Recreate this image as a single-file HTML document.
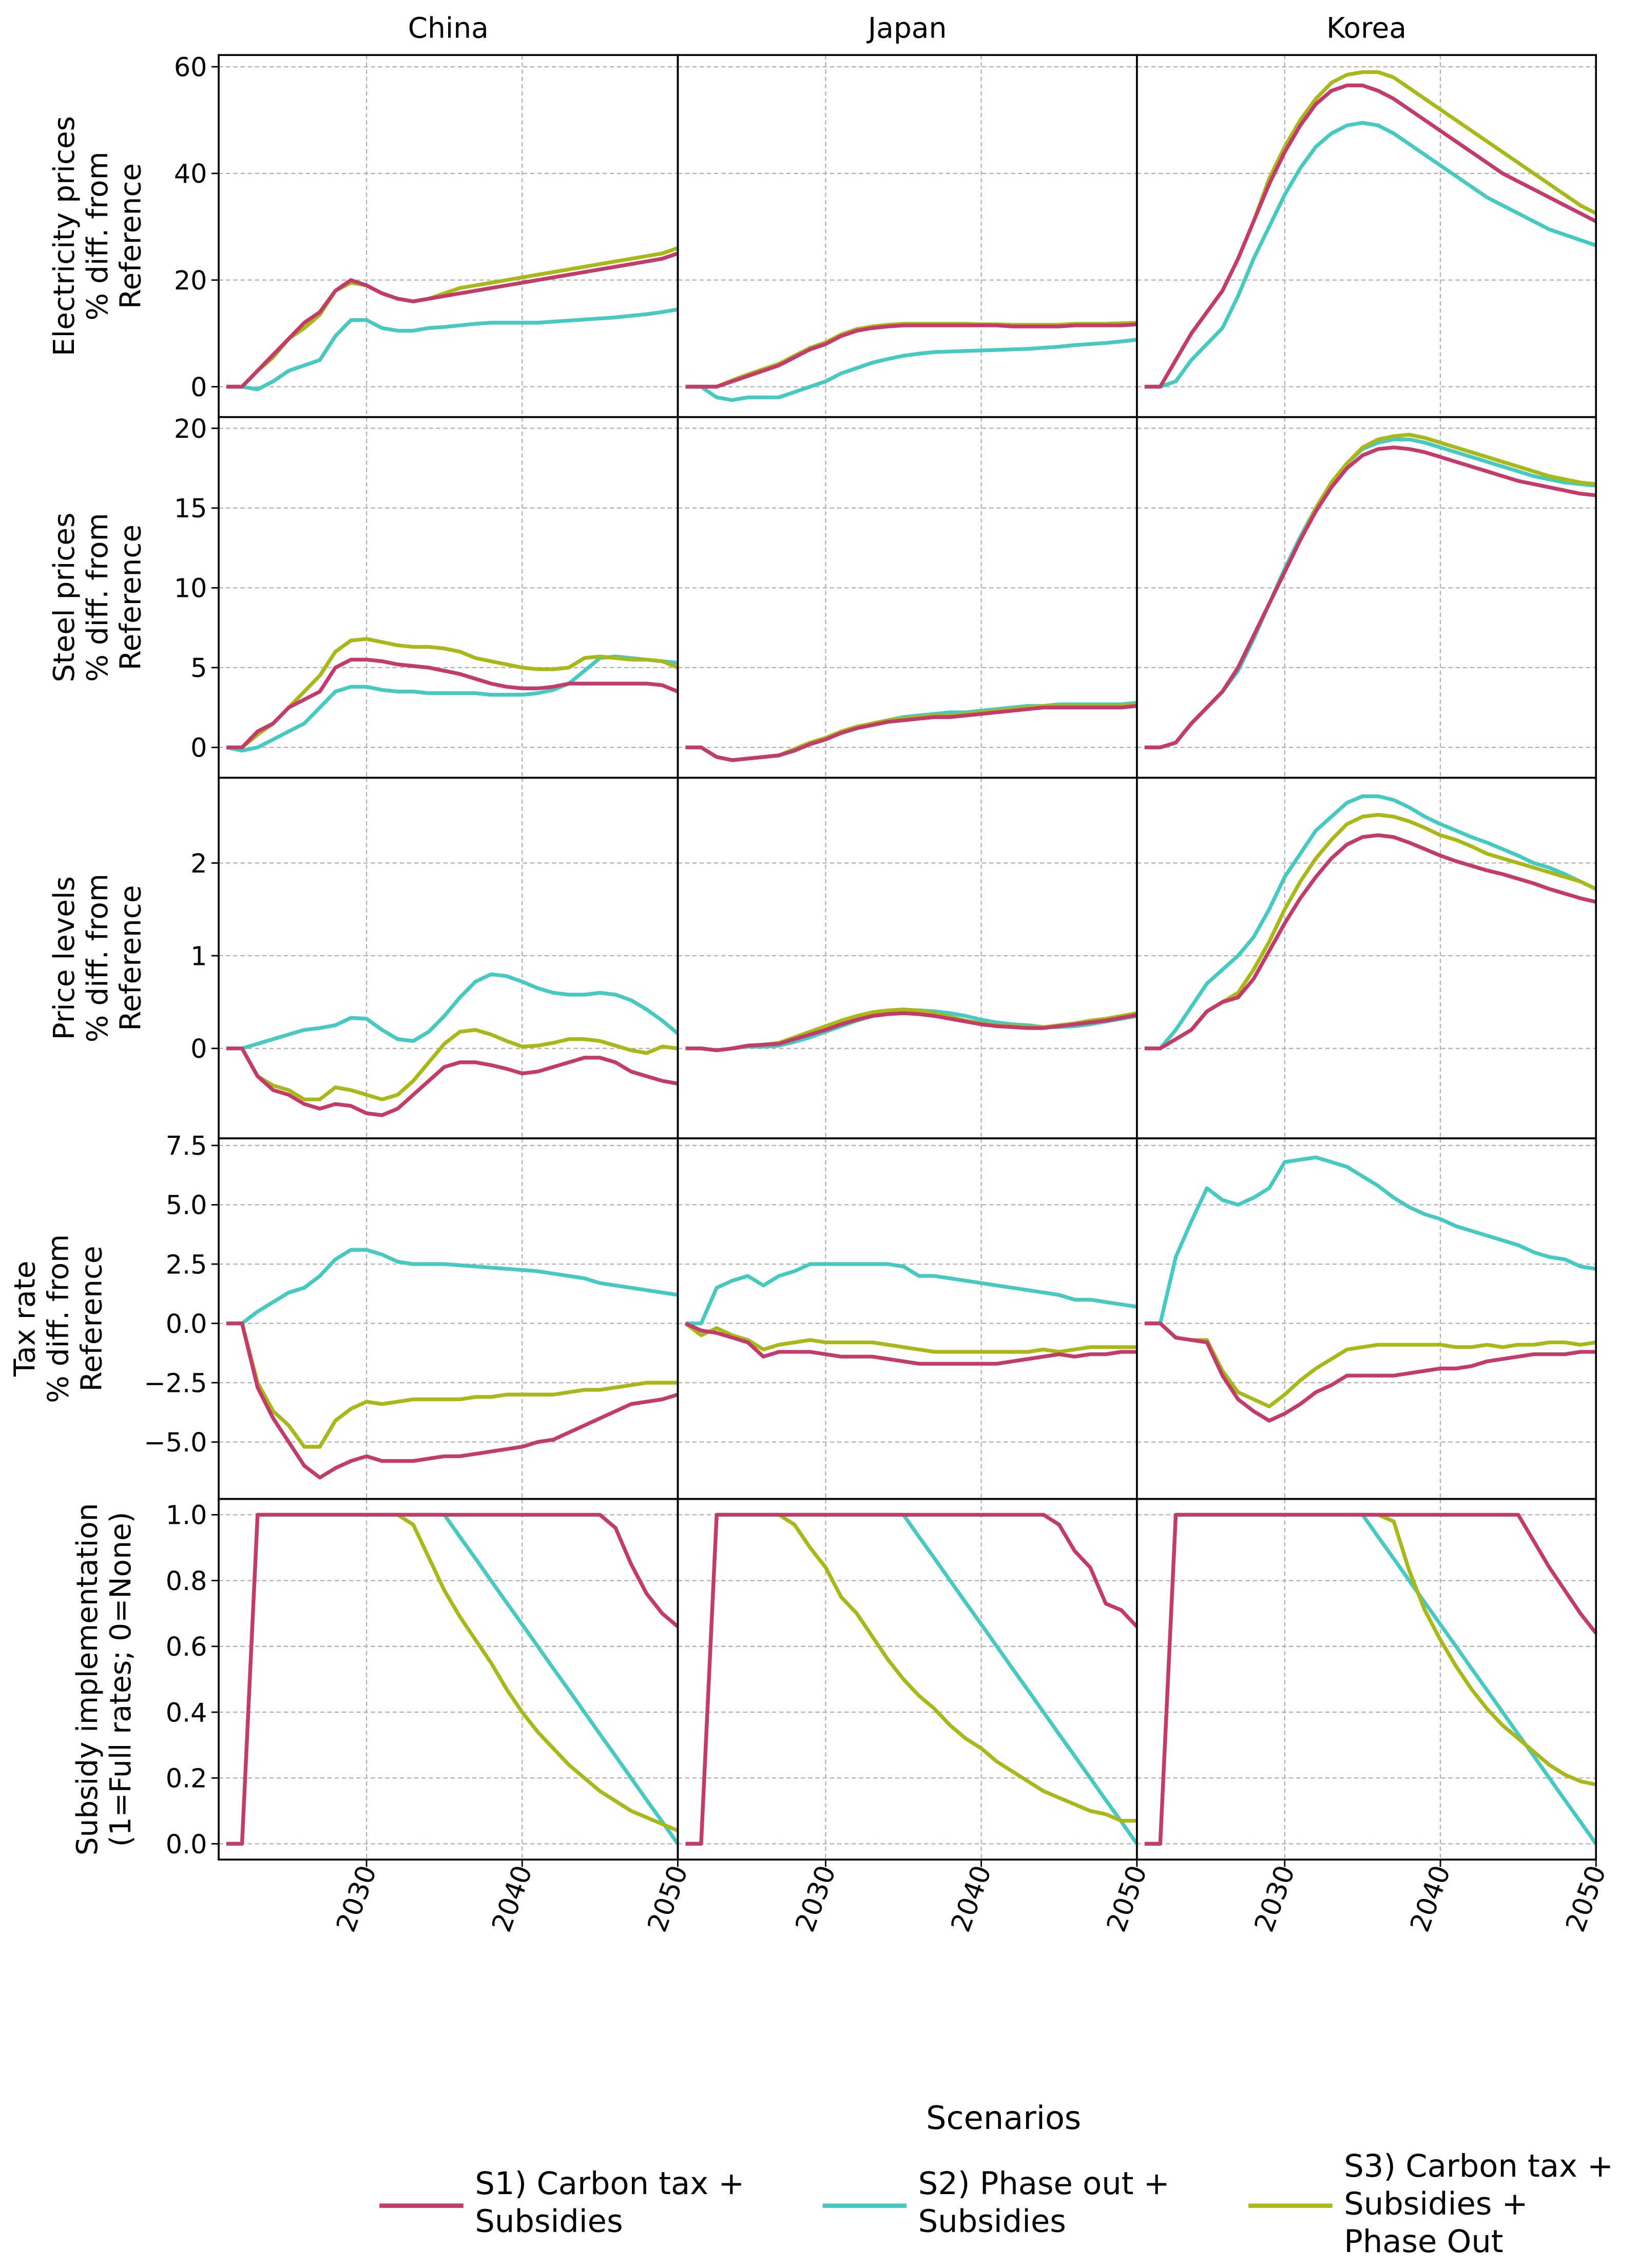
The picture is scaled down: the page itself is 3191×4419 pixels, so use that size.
<!DOCTYPE html>
<html><head><meta charset="utf-8"><style>
html,body{margin:0;padding:0;background:#fff;}
svg{display:block;font-family:"DejaVu Sans","Liberation Sans",sans-serif;}
</style></head><body>
<svg id="chart" width="3191" height="4419" viewBox="0 0 1131 1566" preserveAspectRatio="none" xmlns="http://www.w3.org/2000/svg"></svg>
<script>
const years = [];
for (let y = 2021; y <= 2050; y++) years.push(y);
const countries = ["China","Japan","Korea"];
const scenarioNames = ["S1","S2","S3"];
const rowLabels = [["Electricity prices","% diff. from","Reference"],["Steel prices","% diff. from","Reference"],["Price levels","% diff. from","Reference"],["Tax rate","% diff. from","Reference"],["Subsidy implementation","(1=Full rates; 0=None)"]];
const rowTicks = [[0,20,40,60],[0,5,10,15,20],[0,1,2],[-5,-2.5,0,2.5,5,7.5],[0,0.2,0.4,0.6,0.8,1.0]];
const rowTickLabels = [["0","20","40","60"],["0","5","10","15","20"],["0","1","2"],["−5.0","−2.5","0.0","2.5","5.0","7.5"],["0.0","0.2","0.4","0.6","0.8","1.0"]];
const rowRanges = [[-5.7,62.2],[-1.9,20.7],[-0.97,2.92],[-7.4,7.8],[-0.048,1.048]];
const xTicks = [2030,2040,2050];

// Electricity
const elecChinaS1 = [0,0,3,6,9,12,14,18,20,19,17.5,16.5,16,16.5,17,17.5,18,18.5,19,19.5,20,20.5,21,21.5,22,22.5,23,23.5,24,25];
const elecChinaS2 = [0,0,-0.5,1,3,4,5,9.5,12.5,12.5,11,10.5,10.5,11,11.2,11.5,11.8,12,12,12,12,12.2,12.4,12.6,12.8,13,13.3,13.6,14,14.5];
const elecChinaS3 = [0,0,3,5.5,9,11,13.5,18,19.5,19,17.5,16.5,16,16.5,17.5,18.5,19,19.5,20,20.5,21,21.5,22,22.5,23,23.5,24,24.5,25,26];
const elecJapanS1 = [0,0,0,1,2,3,4,5.5,7,8,9.5,10.5,11,11.3,11.5,11.5,11.5,11.5,11.5,11.5,11.5,11.3,11.3,11.3,11.3,11.5,11.5,11.5,11.5,11.7];
const elecJapanS2 = [0,0,-2,-2.5,-2,-2,-2,-1,0,1,2.5,3.5,4.5,5.2,5.8,6.2,6.5,6.6,6.7,6.8,6.9,7,7.1,7.3,7.5,7.8,8,8.2,8.5,8.8];
const elecJapanS3 = [0,0,0,1.2,2.3,3.3,4.3,5.8,7.3,8.3,9.8,10.8,11.3,11.6,11.8,11.8,11.8,11.8,11.8,11.7,11.7,11.6,11.6,11.6,11.6,11.8,11.8,11.8,11.9,12];
const elecKoreaS1 = [0,0,5,10,14,18,24,31,38,44,49,53,55.5,56.5,56.5,55.5,54,52,50,48,46,44,42,40,38.5,37,35.5,34,32.5,31];
const elecKoreaS2 = [0,0,1,5,8,11,17,24,30,36,41,45,47.5,49,49.5,49,47.5,45.5,43.5,41.5,39.5,37.5,35.5,34,32.5,31,29.5,28.5,27.5,26.5];
const elecKoreaS3 = [0,0,5,10,14,18,24,31,39,45,50,54,57,58.5,59,59,58,56,54,52,50,48,46,44,42,40,38,36,34,32.5];
// Steel
const steelChinaS1 = [0,0,1,1.5,2.5,3,3.5,5,5.5,5.5,5.4,5.2,5.1,5,4.8,4.6,4.3,4,3.8,3.7,3.7,3.8,4,4,4,4,4,4,3.9,3.5];
const steelChinaS2 = [0,-0.2,0,0.5,1,1.5,2.5,3.5,3.8,3.8,3.6,3.5,3.5,3.4,3.4,3.4,3.4,3.3,3.3,3.3,3.4,3.6,4,4.8,5.6,5.7,5.6,5.5,5.4,5.3];
const steelChinaS3 = [0,0,0.8,1.5,2.5,3.5,4.5,6,6.7,6.8,6.6,6.4,6.3,6.3,6.2,6,5.6,5.4,5.2,5,4.9,4.9,5,5.6,5.7,5.6,5.5,5.5,5.4,5];
const steelJapanS1 = [0,0,-0.6,-0.8,-0.7,-0.6,-0.5,-0.2,0.2,0.5,0.9,1.2,1.4,1.6,1.7,1.8,1.9,1.9,2,2.1,2.2,2.3,2.4,2.5,2.5,2.5,2.5,2.5,2.5,2.6];
const steelJapanS2 = [0,0,-0.6,-0.8,-0.7,-0.6,-0.5,-0.2,0.2,0.5,0.9,1.2,1.5,1.7,1.9,2,2.1,2.2,2.2,2.3,2.4,2.5,2.6,2.6,2.7,2.7,2.7,2.7,2.7,2.8];
const steelJapanS3 = [0,0,-0.6,-0.8,-0.7,-0.6,-0.5,-0.1,0.3,0.6,1,1.3,1.5,1.7,1.8,1.9,2,2,2.1,2.2,2.3,2.4,2.5,2.6,2.6,2.6,2.6,2.6,2.6,2.7];
const steelKoreaS1 = [0,0,0.3,1.5,2.5,3.5,5,7,9,11,13,14.8,16.3,17.5,18.3,18.7,18.8,18.7,18.5,18.2,17.9,17.6,17.3,17,16.7,16.5,16.3,16.1,15.9,15.8];
const steelKoreaS2 = [0,0,0.3,1.5,2.5,3.5,4.8,6.8,9,11.2,13.2,15,16.6,17.8,18.7,19.1,19.3,19.3,19.1,18.8,18.5,18.2,17.9,17.6,17.3,17,16.8,16.6,16.5,16.4];
const steelKoreaS3 = [0,0,0.3,1.5,2.5,3.5,5,7,9,11,13,15,16.6,17.8,18.8,19.3,19.5,19.6,19.4,19.1,18.8,18.5,18.2,17.9,17.6,17.3,17,16.8,16.6,16.5];
// Price levels
const priceChinaS1 = [0,0,-0.3,-0.45,-0.5,-0.6,-0.65,-0.6,-0.62,-0.7,-0.72,-0.65,-0.5,-0.35,-0.2,-0.15,-0.15,-0.18,-0.22,-0.27,-0.25,-0.2,-0.15,-0.1,-0.1,-0.15,-0.25,-0.3,-0.35,-0.38];
const priceChinaS2 = [0,0,0.05,0.1,0.15,0.2,0.22,0.25,0.33,0.32,0.2,0.1,0.08,0.18,0.35,0.55,0.72,0.8,0.78,0.72,0.65,0.6,0.58,0.58,0.6,0.58,0.52,0.42,0.3,0.16];
const priceChinaS3 = [0,0,-0.3,-0.4,-0.45,-0.55,-0.55,-0.42,-0.45,-0.5,-0.55,-0.5,-0.35,-0.15,0.05,0.18,0.2,0.15,0.08,0.02,0.03,0.06,0.1,0.1,0.08,0.03,-0.02,-0.05,0.02,0];
const priceJapanS1 = [0,0,-0.02,0,0.03,0.04,0.05,0.1,0.15,0.2,0.26,0.31,0.35,0.37,0.38,0.37,0.35,0.32,0.29,0.26,0.24,0.23,0.22,0.22,0.24,0.26,0.28,0.3,0.33,0.36];
const priceJapanS2 = [0,0,-0.02,0,0.02,0.02,0.03,0.07,0.12,0.18,0.24,0.3,0.35,0.38,0.4,0.41,0.4,0.38,0.35,0.31,0.28,0.26,0.25,0.23,0.23,0.24,0.26,0.29,0.32,0.35];
const priceJapanS3 = [0,0,-0.02,0,0.03,0.04,0.06,0.12,0.18,0.24,0.3,0.35,0.39,0.41,0.42,0.41,0.38,0.34,0.3,0.27,0.25,0.24,0.23,0.23,0.25,0.27,0.3,0.32,0.35,0.38];
const priceKoreaS1 = [0,0,0.1,0.2,0.4,0.5,0.55,0.75,1.05,1.35,1.62,1.85,2.05,2.2,2.28,2.3,2.28,2.22,2.15,2.08,2.02,1.97,1.92,1.88,1.83,1.78,1.72,1.67,1.62,1.58];
const priceKoreaS2 = [0,0,0.2,0.45,0.7,0.85,1.0,1.2,1.5,1.85,2.1,2.35,2.5,2.65,2.72,2.72,2.68,2.6,2.5,2.42,2.35,2.28,2.22,2.15,2.08,2.0,1.95,1.88,1.8,1.72];
const priceKoreaS3 = [0,0,0.1,0.2,0.4,0.5,0.6,0.85,1.15,1.5,1.8,2.05,2.25,2.42,2.5,2.52,2.5,2.45,2.38,2.3,2.25,2.18,2.1,2.05,2,1.95,1.9,1.85,1.8,1.72];
// Tax rate
const taxChinaS1 = [0,0,-2.7,-4,-5,-6,-6.5,-6.1,-5.8,-5.6,-5.8,-5.8,-5.8,-5.7,-5.6,-5.6,-5.5,-5.4,-5.3,-5.2,-5.0,-4.9,-4.6,-4.3,-4.0,-3.7,-3.4,-3.3,-3.2,-3.0];
const taxChinaS2 = [0,0,0.5,0.9,1.3,1.5,2,2.7,3.1,3.1,2.9,2.6,2.5,2.5,2.5,2.45,2.4,2.35,2.3,2.25,2.2,2.1,2,1.9,1.7,1.6,1.5,1.4,1.3,1.2];
const taxChinaS3 = [0,0,-2.5,-3.7,-4.3,-5.2,-5.2,-4.1,-3.6,-3.3,-3.4,-3.3,-3.2,-3.2,-3.2,-3.2,-3.1,-3.1,-3.0,-3.0,-3.0,-3.0,-2.9,-2.8,-2.8,-2.7,-2.6,-2.5,-2.5,-2.5];
const taxJapanS1 = [0,-0.3,-0.4,-0.6,-0.8,-1.4,-1.2,-1.2,-1.2,-1.3,-1.4,-1.4,-1.4,-1.5,-1.6,-1.7,-1.7,-1.7,-1.7,-1.7,-1.7,-1.6,-1.5,-1.4,-1.3,-1.4,-1.3,-1.3,-1.2,-1.2];
const taxJapanS2 = [0,0,1.5,1.8,2,1.6,2,2.2,2.5,2.5,2.5,2.5,2.5,2.5,2.4,2,2,1.9,1.8,1.7,1.6,1.5,1.4,1.3,1.2,1.0,1.0,0.9,0.8,0.7];
const taxJapanS3 = [0,-0.5,-0.2,-0.5,-0.7,-1.1,-0.9,-0.8,-0.7,-0.8,-0.8,-0.8,-0.8,-0.9,-1,-1.1,-1.2,-1.2,-1.2,-1.2,-1.2,-1.2,-1.2,-1.1,-1.2,-1.1,-1.0,-1.0,-1.0,-1.0];
const taxKoreaS1 = [0,0,-0.6,-0.7,-0.8,-2.2,-3.2,-3.7,-4.1,-3.8,-3.4,-2.9,-2.6,-2.2,-2.2,-2.2,-2.2,-2.1,-2.0,-1.9,-1.9,-1.8,-1.6,-1.5,-1.4,-1.3,-1.3,-1.3,-1.2,-1.2];
const taxKoreaS2 = [0,0,2.8,4.3,5.7,5.2,5,5.3,5.7,6.8,6.9,7.0,6.8,6.6,6.2,5.8,5.3,4.9,4.6,4.4,4.1,3.9,3.7,3.5,3.3,3.0,2.8,2.7,2.4,2.3];
const taxKoreaS3 = [0,0,-0.6,-0.7,-0.7,-2,-2.9,-3.2,-3.5,-3,-2.4,-1.9,-1.5,-1.1,-1.0,-0.9,-0.9,-0.9,-0.9,-0.9,-1.0,-1.0,-0.9,-1.0,-0.9,-0.9,-0.8,-0.8,-0.9,-0.8];
// Subsidy
const subChinaS1 = [0,0,1,1,1,1,1,1,1,1,1,1,1,1,1,1,1,1,1,1,1,1,1,1,1,0.96,0.85,0.76,0.7,0.66];
const subChinaS2 = [0,0,1,1,1,1,1,1,1,1,1,1,1,1,1,0.933,0.867,0.8,0.733,0.667,0.6,0.533,0.467,0.4,0.333,0.267,0.2,0.133,0.067,0];
const subChinaS3 = [0,0,1,1,1,1,1,1,1,1,1,1,0.97,0.87,0.77,0.69,0.62,0.55,0.47,0.4,0.34,0.29,0.24,0.2,0.16,0.13,0.1,0.08,0.06,0.04];
const subJapanS1 = [0,0,1,1,1,1,1,1,1,1,1,1,1,1,1,1,1,1,1,1,1,1,1,1,0.97,0.89,0.84,0.73,0.71,0.66];
const subJapanS2 = [0,0,1,1,1,1,1,1,1,1,1,1,1,1,1,0.933,0.867,0.8,0.733,0.667,0.6,0.533,0.467,0.4,0.333,0.267,0.2,0.133,0.067,0];
const subJapanS3 = [0,0,1,1,1,1,1,0.97,0.9,0.84,0.75,0.7,0.63,0.56,0.5,0.45,0.41,0.36,0.32,0.29,0.25,0.22,0.19,0.16,0.14,0.12,0.1,0.09,0.07,0.07];
const subKoreaS1 = [0,0,1,1,1,1,1,1,1,1,1,1,1,1,1,1,1,1,1,1,1,1,1,1,1,0.92,0.84,0.77,0.7,0.64];
const subKoreaS2 = [0,0,1,1,1,1,1,1,1,1,1,1,1,1,1,0.933,0.867,0.8,0.733,0.667,0.6,0.533,0.467,0.4,0.333,0.267,0.2,0.133,0.067,0];
const subKoreaS3 = [0,0,1,1,1,1,1,1,1,1,1,1,1,1,1,1,0.98,0.83,0.71,0.62,0.54,0.47,0.41,0.36,0.32,0.28,0.24,0.21,0.19,0.18];

const series = [
 [[elecChinaS1,elecChinaS2,elecChinaS3],[elecJapanS1,elecJapanS2,elecJapanS3],[elecKoreaS1,elecKoreaS2,elecKoreaS3]],
 [[steelChinaS1,steelChinaS2,steelChinaS3],[steelJapanS1,steelJapanS2,steelJapanS3],[steelKoreaS1,steelKoreaS2,steelKoreaS3]],
 [[priceChinaS1,priceChinaS2,priceChinaS3],[priceJapanS1,priceJapanS2,priceJapanS3],[priceKoreaS1,priceKoreaS2,priceKoreaS3]],
 [[taxChinaS1,taxChinaS2,taxChinaS3],[taxJapanS1,taxJapanS2,taxJapanS3],[taxKoreaS1,taxKoreaS2,taxKoreaS3]],
 [[subChinaS1,subChinaS2,subChinaS3],[subJapanS1,subJapanS2,subJapanS3],[subKoreaS1,subKoreaS2,subKoreaS3]]
];
const colors = ["#c23b6a","#45c9c0","#a8b818"];
const drawOrder = [1,2,0];

const NS = "http://www.w3.org/2000/svg";
const svg = document.getElementById("chart");
function el(tag, attrs, parent){ const e=document.createElementNS(NS,tag); for(const k in attrs) e.setAttribute(k,attrs[k]); (parent||svg).appendChild(e); return e; }
const colX = [151,468,785], colW = 317;
const rowY = [38,288,537,786,1035], rowH = [250,249,249,249,249];
const xMin = 2020.5, xMax = 2050;
const labelX = [[44,67,90],[44,67,90],[44,67,90],[17,40,63],[60,83]];
function xScale(c, yr){ return colX[c] + (yr - xMin)/(xMax - xMin)*colW; }
function yScale(r, v){ const [lo,hi]=rowRanges[r]; return rowY[r] + rowH[r] - (v-lo)/(hi-lo)*rowH[r]; }

for (let r=0;r<5;r++){
  for (let c=0;c<3;c++){
    const g = el("g",{});
    
    
    rowTicks[r].forEach(t=>{ const y=yScale(r,t); el("line",{x1:colX[c],x2:colX[c]+colW,y1:y,y2:y,stroke:"#b0b0b0","stroke-width":0.8,"stroke-dasharray":"3,2"},g); });
    xTicks.forEach(t=>{ const x=xScale(c,t); el("line",{x1:x,x2:x,y1:rowY[r],y2:rowY[r]+rowH[r],stroke:"#b0b0b0","stroke-width":0.8,"stroke-dasharray":"3,2"},g); });
    drawOrder.forEach(s=>{
      const d = series[r][c][s].map((v,i)=>(i?"L":"M")+xScale(c,years[i]).toFixed(2)+","+yScale(r,v).toFixed(2)).join(" ");
      const p = el("path",{d:d,fill:"none",stroke:colors[s],"stroke-width":2.6,"stroke-linejoin":"round"},g);
      
      
    });
    el("rect",{x:colX[c],y:rowY[r],width:colW,height:rowH[r],fill:"none",stroke:"#000","stroke-width":1.3},g);
    if (c===0){
      rowTicks[r].forEach((t,i)=>{ const y=yScale(r,t);
        el("line",{x1:colX[0]-5,x2:colX[0],y1:y,y2:y,stroke:"#000","stroke-width":1},g);
        const tx=el("text",{x:colX[0]-8,y:y+6.5,"text-anchor":"end","font-size":18,fill:"#000"},g); tx.textContent=rowTickLabels[r][i];
        
        
      });
    }
    if (r===4){
      xTicks.forEach(t=>{ const x=xScale(c,t);
        el("line",{x1:x,x2:x,y1:rowY[4]+rowH[4],y2:rowY[4]+rowH[4]+5,stroke:"#000","stroke-width":1},g);
        const tx=el("text",{x:x+7,y:1291,"text-anchor":"end","font-size":18.5,transform:"rotate(-70 "+(x+7)+" 1291)"},g); tx.textContent=String(t);
        
        
      });
    }
  }
  const lines = rowLabels[r];
  const cy = rowY[r]+rowH[r]/2;
  lines.forEach((ln,i)=>{
    const x = labelX[r][i] + 7;
    const t = el("text",{x:x,y:cy,"text-anchor":"middle","font-size":20,transform:"rotate(-90 "+x+" "+cy+")"}); t.textContent=ln;
    
    
  });
}
countries.forEach((cn,c)=>{
  const t=el("text",{x:colX[c]+colW/2,y:26,"text-anchor":"middle","font-size":19.5}); t.textContent=cn;
  
  
});
const lt = el("text",{x:693,y:1470,"text-anchor":"middle","font-size":22}); lt.textContent="Scenarios";


const legend = [
 {x:262, lines:["S1) Carbon tax +","Subsidies"], ys:[1515,1541]},
 {x:568, lines:["S2) Phase out +","Subsidies"], ys:[1515,1541]},
 {x:862, lines:["S3) Carbon tax +","Subsidies +","Phase Out"], ys:[1503,1529,1555]}
];
legend.forEach((L,s)=>{
  const g=el("g",{});
  
  
  el("line",{x1:L.x,x2:L.x+58,y1:1523,y2:1523,stroke:colors[s],"stroke-width":3},g);
  L.lines.forEach((ln,i)=>{ const t=el("text",{x:L.x+66,y:L.ys[i],"font-size":21.5},g); t.textContent=ln; });
});
</script>
</body></html>
